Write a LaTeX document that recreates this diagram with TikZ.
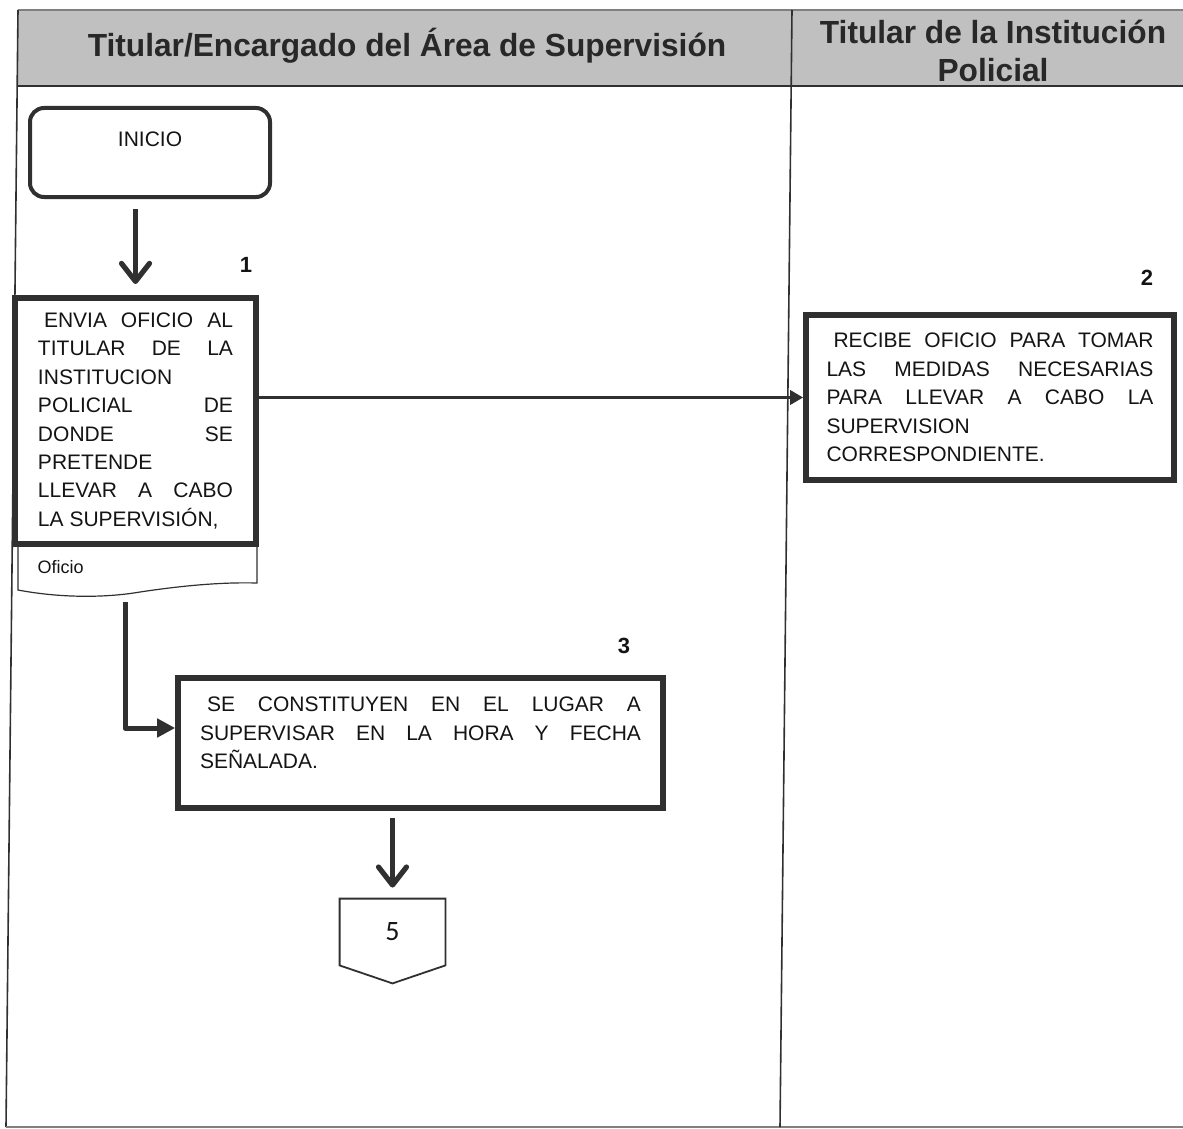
\documentclass[tikz,border=0pt]{standalone}
\usepackage{fontspec}
\setmainfont{Liberation Sans}
\newfontfamily\headfont[FakeStretch=0.99]{Liberation Sans}
\newfontfamily\calfont{Carlito}
\usetikzlibrary{arrows.meta}
\definecolor{hdrgray}{RGB}{192,192,192}
\definecolor{ink}{RGB}{48,48,48}
\definecolor{txt}{RGB}{20,20,20}
\definecolor{hdrtxt}{RGB}{40,40,40}
\tolerance=10000
\hbadness=10000
\begin{document}
\begin{tikzpicture}[x=0.5pt,y=-0.5pt,
  procbox/.style={draw=ink, fill=white, rectangle, inner sep=0pt, line width=2.8pt,
    text=txt, font=\fontsize{10.5}{14.2}\selectfont},
  startbox/.style={procbox, rounded corners=7pt, line width=2pt},
  hdrtext/.style={text=hdrtxt, font=\headfont\bfseries\fontsize{16}{19}\selectfont, inner sep=0pt},
  steplabel/.style={text=txt, font=\bfseries\fontsize{11}{12}\selectfont, inner sep=0pt},
  docbox/.style={inner sep=0pt, text=txt, font=\fontsize{9}{11}\selectfont},
  offpage/.style={inner sep=0pt, text=txt, font=\calfont\fontsize{14}{16}\selectfont},
  chevarrow/.style={draw=ink, line width=2.6pt, -{Straight Barb[length=9pt,width=14pt,round]}},
  flowthick/.style={draw=ink, line width=2.5pt, -{Triangle[length=9pt,width=9pt]}},
  flowthin/.style={draw=ink, line width=1.8pt, -{Triangle[length=6.5pt,width=7pt]}},
  frameline/.style={draw=ink, line width=0.8pt}
]
\useasboundingbox (0,0) rectangle (1183,1129);

% header band
\fill[hdrgray] (18,10) rectangle (1183,86);
\draw[gray, line width=0.6pt] (18,10) -- (1183,10);
\draw[ink, line width=1.2pt] (18,86) -- (1183,86);
% frame and lane divider
\draw[frameline] (18,10) -- (6,1127);
\draw[draw=gray, line width=0.9pt] (6,1127) -- (1183,1127);
\draw[frameline] (792,10) -- (780,1127);

\node[hdrtext, anchor=base] (h1) at (407,57) {Titular/Encargado del Área de Supervisión};
\node[hdrtext, align=center] (h2) at (993,51) {Titular de la Institución\\Policial};

% start
\node[startbox, minimum width=120pt, minimum height=44.5pt] (inicio) at (150,152.5)
  {\parbox[c][20.5pt][t]{110pt}{\centering INICIO}};

% document shape under step 1
\node[docbox, minimum width=119.5pt, minimum height=23pt] (oficio) at (137.5,567)
  {\parbox{100pt}{Oficio}};
\draw[ink, line width=0.6pt] (18,544) -- (18,590) .. controls (60,598) and (105,598) .. (140,592)
  .. controls (180,586) and (220,582) .. (257,583) -- (257,544) -- cycle;

% step 1
\node[procbox, line width=3pt, minimum width=120.5pt, minimum height=123pt] (b1) at (135.5,421)
  {\parbox{97.5pt}{\hspace*{3pt}ENVIA OFICIO AL\linebreak TITULAR DE LA\linebreak INSTITUCION\\
  POLICIAL DE\linebreak DONDE SE\linebreak PRETENDE\\ LLEVAR A CABO\linebreak LA SUPERVISIÓN,}};

% step 2
\node[procbox, minimum width=184pt, minimum height=82.5pt] (b2) at (990,397.5)
  {\parbox{163.5pt}{\hspace*{3.5pt}RECIBE OFICIO PARA TOMAR\linebreak LAS MEDIDAS NECESARIAS\linebreak
  PARA LLEVAR A CABO LA\linebreak SUPERVISION\\ CORRESPONDIENTE.}};

% step 3
\node[procbox, minimum width=242.5pt, minimum height=65pt] (b3) at (420.5,743)
  {\parbox[c][46pt][t]{220.5pt}{\hspace*{3.5pt}SE CONSTITUYEN EN EL LUGAR A\linebreak
  SUPERVISAR EN LA HORA Y FECHA\linebreak SEÑALADA.}};

% off-page connector
\node[offpage, minimum width=52.5pt, minimum height=33pt] (off5) at (392.5,932) {5};
\draw[ink, line width=0.9pt] (off5.north west) -- (off5.south west) -- ([yshift=-9pt]off5.south)
  -- (off5.south east) -- (off5.north east) -- cycle;

% step numbers
\node[steplabel] (n1) at (246,265) {1};
\node[steplabel] (n2) at (1147,278) {2};
\node[steplabel] (n3) at (624,646) {3};

% connectors
\draw[chevarrow, shorten <=5pt, shorten >=5.5pt] (inicio.south -| b1.north) -- (b1.north);
\draw[flowthin] (b1.east |- b2.west) -- (b2.west);
\coordinate (o1) at (125,602);
\coordinate (o2) at (125,728);
\draw[flowthick, line join=round] (o1) -- (o2) -- (o2 -| b3.west);
\draw[chevarrow, shorten <=3.5pt, shorten >=5.5pt] (off5.north |- b3.south) -- (off5.north);
\end{tikzpicture}
\end{document}
